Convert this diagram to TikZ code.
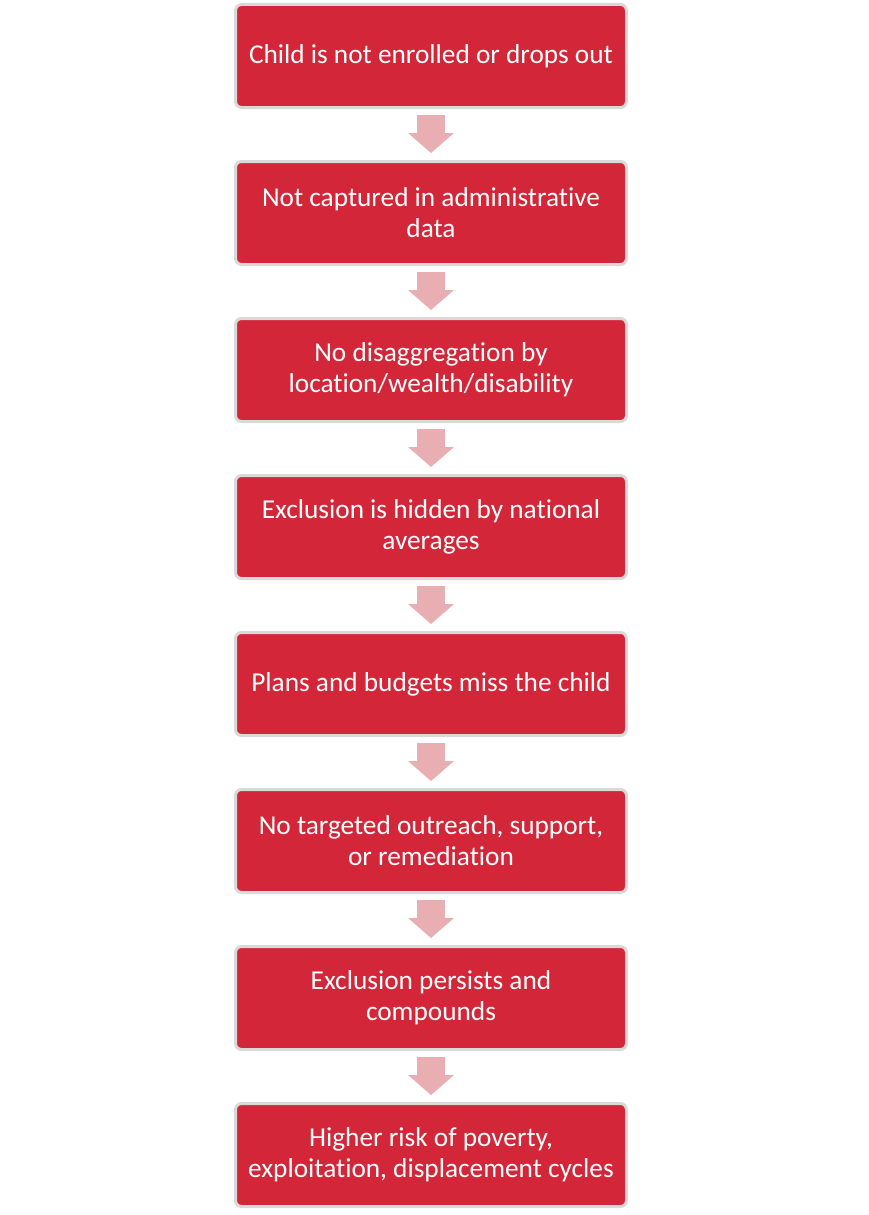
\documentclass[tikz,border=0pt]{standalone}
\usepackage{fontspec}
\setmainfont{Carlito}[Ligatures={NoCommon,NoContextual}]
\usetikzlibrary{arrows.meta}
\definecolor{boxred}{HTML}{D32638}
\definecolor{boxrim}{HTML}{D9D9D9}
\definecolor{arrowpink}{HTML}{E8AEB2}
\tikzset{
  stepbox/.style={rectangle,rounded corners=6pt,fill=boxred,draw=boxrim,line width=3pt,
    minimum width=391pt,minimum height=103pt,text=white,align=center,
    font=\fontsize{27.3pt}{31pt}\selectfont},
  flow/.style={arrowpink,line width=28pt,-{Triangle[width=46pt,length=20pt,line width=0pt]},
    shorten <=6pt,shorten >=7pt}
}
\begin{document}
\begin{tikzpicture}[x=1pt,y=-1pt]
    \useasboundingbox (0,0) rectangle (868,1215);
    \node[stepbox] at (431,56) (enrol) {Child is not enrolled or drops out};
    \node[stepbox] at (431,213) (admin) {Not captured in administrative\\data};
    \node[stepbox] at (431,370) (disagg) {No disaggregation by\\location/wealth/disability};
    \node[stepbox] at (431,527) (hidden) {Exclusion is hidden by national\\averages};
    \node[stepbox] at (431,684) (plans) {Plans and budgets miss the child};
    \node[stepbox] at (431,841) (outreach) {No targeted outreach, support,\\or remediation};
    \node[stepbox] at (431,998) (persist) {Exclusion persists and\\compounds};
    \node[stepbox] at (431,1155) (risk) {Higher risk of poverty,\\exploitation, displacement cycles};
    \draw[flow] (enrol) -- (admin);
    \draw[flow] (admin) -- (disagg);
    \draw[flow] (disagg) -- (hidden);
    \draw[flow] (hidden) -- (plans);
    \draw[flow] (plans) -- (outreach);
    \draw[flow] (outreach) -- (persist);
    \draw[flow] (persist) -- (risk);
\end{tikzpicture}
\end{document}
